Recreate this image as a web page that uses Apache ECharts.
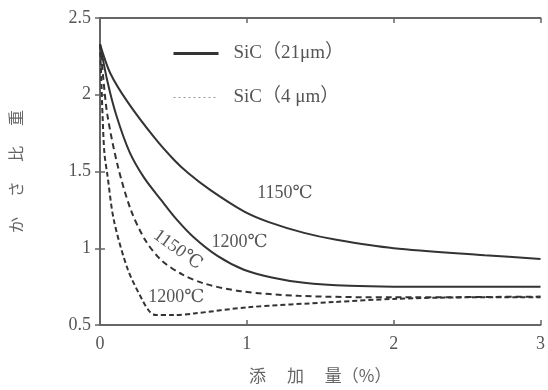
<!DOCTYPE html>
<html><head><meta charset="utf-8">
<script src="https://cdn.jsdelivr.net/npm/echarts@6/dist/echarts.min.js"></script>
<style>html,body{margin:0;padding:0;background:#fff}#c{width:548px;height:390px}</style>
</head><body><div id="c"></div>
<script>
// Tick values
const xTicks = [0, 1, 2, 3];
const yTicks = [0.5, 1, 1.5, 2, 2.5];

// SiC (21 μm), 1150 ℃  (solid)
const s21_1150_x = [0, 0.07, 0.19, 0.375, 0.5, 0.6, 0.75, 0.98, 1.15, 1.39, 1.61, 2.0, 2.62, 3.0];
const s21_1150_y = [2.33, 2.14, 1.95, 1.715, 1.58, 1.49, 1.38, 1.24, 1.17, 1.10, 1.055, 1.00, 0.955, 0.93];

// SiC (21 μm), 1200 ℃  (solid)
const s21_1200_x = [0, 0.05, 0.11, 0.2, 0.3, 0.42, 0.52, 0.64, 0.8, 0.98, 1.17, 1.39, 1.7, 2.0, 3.0];
const s21_1200_y = [2.33, 2.09, 1.87, 1.63, 1.46, 1.31, 1.19, 1.07, 0.95, 0.86, 0.81, 0.775, 0.755, 0.75, 0.75];

// SiC (4 μm), 1150 ℃  (dashed)
const s4_1150_x = [0, 0.02, 0.05, 0.12, 0.21, 0.31, 0.42, 0.56, 0.71, 0.96, 1.35, 2.0, 3.0];
const s4_1150_y = [2.33, 2.13, 1.87, 1.54, 1.25, 1.05, 0.92, 0.83, 0.77, 0.72, 0.69, 0.68, 0.685];

// SiC (4 μm), 1200 ℃  (dashed)
const s4_1200_x = [0, 0.008, 0.018, 0.03, 0.05, 0.095, 0.19, 0.29, 0.34, 0.38, 0.5, 0.64, 1.0, 1.6, 2.0, 2.5, 3.0];
const s4_1200_y = [2.33, 2.12, 1.85, 1.62, 1.48, 1.18, 0.86, 0.66, 0.585, 0.565, 0.565, 0.575, 0.615, 0.65, 0.67, 0.68, 0.68];

// Curve labels (data coordinates)
const labelTexts = ['1150℃', '1200℃', '1150℃', '1200℃'];
const labelX = [1.26, 0.95, 0.53, 0.52];
const labelY = [1.36, 1.04, 0.99, 0.68];

const legendNames = ['SiC（21μm）', 'SiC（4 μm）'];
const xName = '添　 加　 量（%）';
const yName = 'か　 さ　 比　 重';

function zip(xs, ys) { return xs.map((x, i) => [x, ys[i]]); }

const serif = "'Liberation Serif', 'DejaVu Serif', 'Noto Sans CJK JP', serif";
const cjk = "'Noto Sans CJK JP', sans-serif";
const ink = '#333';
const gray = '#666';

function mp(i, rot) {
  return {
    symbol: 'circle', symbolSize: 0, silent: true,
    label: {
      show: true, position: 'inside', formatter: labelTexts[i],
      fontFamily: serif, fontSize: 18, color: '#555', rotate: rot || 0
    },
    data: [{ coord: [labelX[i], labelY[i]] }]
  };
}

const lineCommon = { type: 'line', smooth: 0.3, symbol: 'none', showSymbol: false };

const chart = echarts.init(document.getElementById('c'), null, { renderer: 'canvas' });
chart.setOption({
  animation: false,
  backgroundColor: '#fff',
  grid: { left: 99, right: 0, top: 18, bottom: 65 },
  legend: {
    orient: 'vertical', left: 167, top: 39,
    itemWidth: 45, itemHeight: 16, itemGap: 25,
    itemStyle: { opacity: 0 },
    textStyle: { fontFamily: serif, fontSize: 19, color: '#555', padding: [0, 0, 0, 10] },
    data: [
      { name: legendNames[0], itemStyle: { opacity: 0 }, lineStyle: { width: 3, color: ink, type: 'solid' } },
      { name: legendNames[1], itemStyle: { opacity: 0 }, lineStyle: { width: 1, color: '#999', type: [2, 3] } }
    ]
  },
  xAxis: [{
    type: 'value', min: 0, max: 3,
    name: xName, nameLocation: 'middle', nameGap: 42,
    nameTextStyle: { fontFamily: cjk, fontSize: 17, color: gray },
    axisLine: { show: true, lineStyle: { color: gray, width: 2 } },
    axisTick: { show: true, inside: true, length: 5, customValues: xTicks, lineStyle: { color: gray, width: 1.5 } },
    axisLabel: { customValues: xTicks, margin: 10, fontFamily: serif, fontSize: 18, color: '#555' },
    splitLine: { show: false }
  }, {
    type: 'value', min: 0, max: 3, position: 'top',
    axisLine: { show: true, lineStyle: { color: gray, width: 2 } },
    axisTick: { show: true, inside: true, length: 5, customValues: xTicks, lineStyle: { color: gray, width: 1.5 } },
    axisLabel: { show: false }, splitLine: { show: false }
  }],
  yAxis: [{
    type: 'value', min: 0.5, max: 2.5, interval: 0.5,
    name: yName, nameLocation: 'middle', nameGap: 76, nameRotate: 90,
    nameTextStyle: { fontFamily: cjk, fontSize: 16, color: gray },
    axisLine: { show: true, lineStyle: { color: gray, width: 2 } },
    axisTick: { show: true, inside: true, length: 5, lineStyle: { color: gray, width: 1.5 } },
    axisLabel: { margin: 9, fontFamily: serif, fontSize: 18, color: '#555' },
    splitLine: { show: false }
  }, {
    type: 'value', min: 0.5, max: 2.5, interval: 0.5, position: 'right',
    axisLine: { show: true, lineStyle: { color: gray, width: 2 } },
    axisTick: { show: true, inside: true, length: 5, lineStyle: { color: gray, width: 1.5 } },
    axisLabel: { show: false }, splitLine: { show: false }
  }],
  series: [
    Object.assign({}, lineCommon, { name: legendNames[0],
      lineStyle: { color: ink, width: 2 }, itemStyle: { color: ink },
      data: zip(s21_1150_x, s21_1150_y), markPoint: mp(0) }),
    Object.assign({}, lineCommon, { name: legendNames[0],
      lineStyle: { color: ink, width: 2 }, itemStyle: { color: ink },
      data: zip(s21_1200_x, s21_1200_y), markPoint: mp(1) }),
    Object.assign({}, lineCommon, { name: 'd1150',
      lineStyle: { color: ink, width: 2, type: [6, 4] }, itemStyle: { color: ink },
      data: zip(s4_1150_x, s4_1150_y), markPoint: mp(2, -36) }),
    Object.assign({}, lineCommon, { name: 'd1200',
      lineStyle: { color: ink, width: 2, type: [5, 3] }, itemStyle: { color: ink },
      data: zip(s4_1200_x, s4_1200_y), markPoint: mp(3) }),
    Object.assign({}, lineCommon, { name: legendNames[1],
      lineStyle: { color: '#999', width: 1, type: [2, 3] }, itemStyle: { color: '#999' },
      data: [] })
  ]
});
</script></body></html>
